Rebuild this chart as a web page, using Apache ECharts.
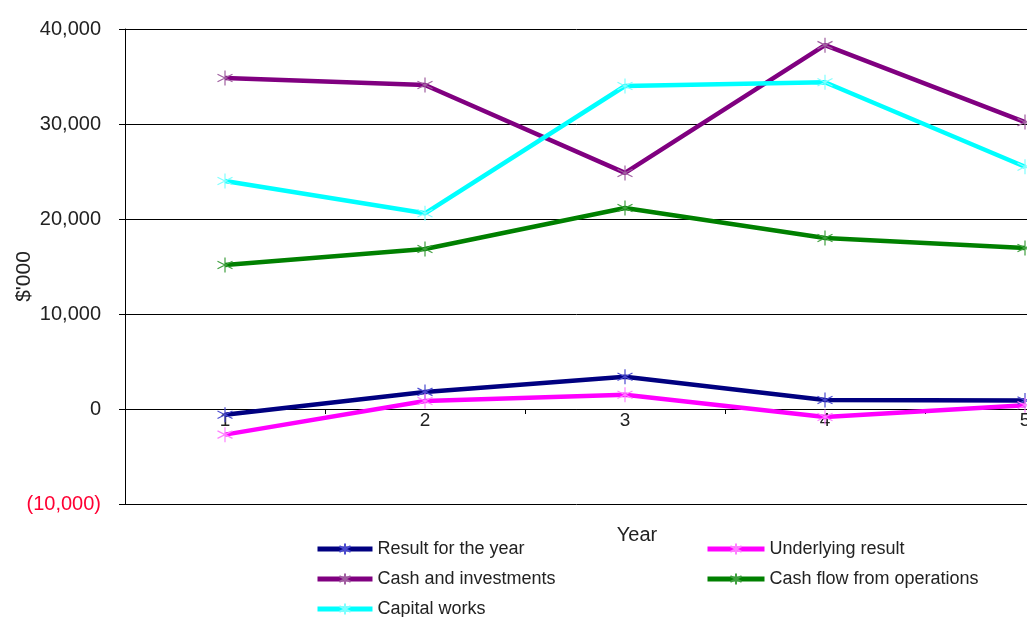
<!DOCTYPE html>
<html><head><meta charset="utf-8">
<script src="https://cdn.jsdelivr.net/npm/echarts@6/dist/echarts.min.js"></script>
<style>html,body{margin:0;padding:0;background:#fff}#c{width:1027px;height:617px}</style>
</head><body><div id="c"></div>
<script>
const categories = ['1','2','3','4','5'];
const resultForYear = [-600, 1800, 3400, 950, 900];
const underlyingResult = [-2700, 850, 1500, -850, 400];
const cashAndInvestments = [34850, 34100, 24850, 38300, 30200];
const cashFlowFromOps = [15150, 16850, 21150, 18000, 16950];
const capitalWorks = [24000, 20600, 34000, 34400, 25500];

const FONT = "'Liberation Sans Narrow','Liberation Sans',Arial,sans-serif";
const star = 'path://M0,-10L0,10M-8.66,-5L8.66,5M-8.66,5L8.66,-5';
function mk(name, data, color, mcolor) {
  return {
    name, type: 'line', data, symbol: star, symbolSize: 15,
    lineStyle: {color, width: 4.5},
    itemStyle: {color: 'none', borderColor: mcolor, borderWidth: 1.2},
    emphasis: {disabled: true}, z: 3
  };
}
function lg(name, left, cy, w) {
  return {
    left, top: cy - 8, padding: 0, itemWidth: w, itemHeight: 14,
    lineStyle: {width: 5},
    textStyle: {fontFamily: FONT, fontSize: 18, color: '#222'},
    data: [name]
  };
}
const chart = echarts.init(document.getElementById('c'));
chart.setOption({
  animation: false,
  backgroundColor: '#fff',
  grid: {left: 125, top: 29, bottom: 113, right: -98, containLabel: false, outerBoundsMode: 'none'},
  xAxis: {
    type: 'category', data: categories, boundaryGap: true,
    name: 'Year', nameLocation: 'middle', nameGap: 21,
    nameTextStyle: {fontFamily: FONT, fontSize: 20, color: '#222', padding: [0,0,0,24]},
    axisLine: {onZero: true, lineStyle: {color: '#000', width: 1}},
    axisTick: {show: true, length: 5, lineStyle: {color: '#000'}},
    axisLabel: {fontFamily: FONT, fontSize: 19, color: '#222', margin: -93}
  },
  yAxis: {
    type: 'value', min: -10000, max: 40000, interval: 10000,
    name: "$'000", nameLocation: 'middle', nameGap: 90, nameRotate: 90, nameMoveOverlap: false,
    nameTextStyle: {fontFamily: FONT, fontSize: 21, color: '#222', padding: [0,20,0,0]},
    axisLine: {show: true, lineStyle: {color: '#000', width: 1}},
    axisTick: {show: true, length: 6, lineStyle: {color: '#000'}},
    splitLine: {show: true, lineStyle: {color: '#000', width: 1}},
    axisLabel: {
      fontFamily: FONT, fontSize: 20, color: '#222', margin: 24,
      formatter: v => v < 0 ? '{neg|(' + Math.abs(v).toLocaleString('en-US') + ')}' : v.toLocaleString('en-US'),
      rich: {neg: {color: '#ff0033', fontFamily: FONT, fontSize: 20}}
    }
  },
  legend: [
    lg('Result for the year', 315, 548, 55),
    lg('Cash and investments', 315, 578, 55),
    lg('Capital works', 315, 608, 55),
    lg('Underlying result', 705, 548, 57),
    lg('Cash flow from operations', 705, 578, 57)
  ],
  series: [
    mk('Result for the year', resultForYear, '#000080', '#4b4bd0'),
    mk('Underlying result', underlyingResult, '#ff00ff', '#ff80ff'),
    mk('Cash and investments', cashAndInvestments, '#800080', '#a060a0'),
    mk('Cash flow from operations', cashFlowFromOps, '#008000', '#40a040'),
    mk('Capital works', capitalWorks, '#00ffff', '#80ffff')
  ]
});
</script></body></html>
